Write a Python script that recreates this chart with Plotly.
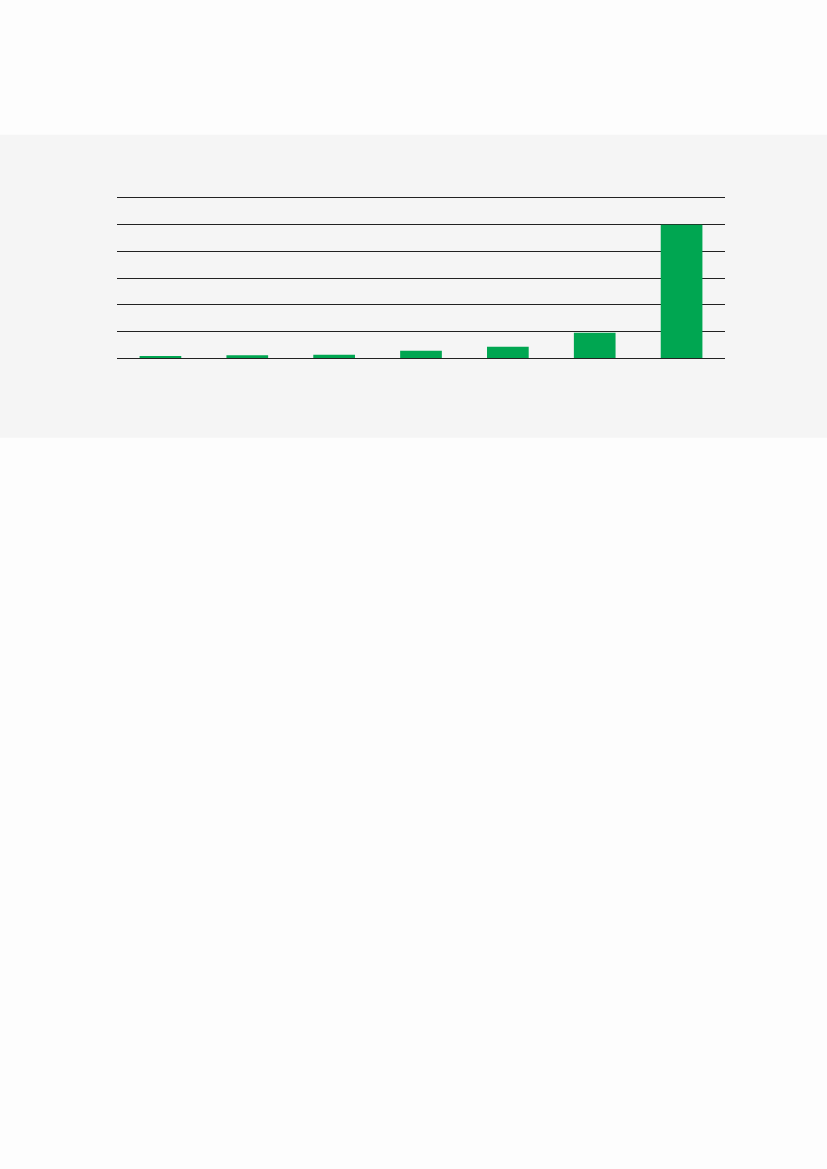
import plotly.graph_objects as go

categories = ["1", "2", "3", "4", "5", "6", "7"]
values = [0.5, 1.0, 1.25, 2.7, 4.2, 9.5, 50.0]

W, H = 827, 1169
plot_left, plot_right = 117, 725
plot_top, plot_bottom = 198.3, 358.3
band_top, band_bottom = 135, 438

pw = plot_right - plot_left
ph = plot_bottom - plot_top

fig = go.Figure(
    go.Bar(
        x=categories,
        y=values,
        marker=dict(color="#00A651", line=dict(width=0)),
        hoverinfo="skip",
    )
)

fig.add_shape(
    type="rect",
    xref="paper", yref="paper",
    x0=(0 - plot_left) / pw, x1=(W - plot_left) / pw,
    y0=(plot_bottom - band_bottom) / ph, y1=(plot_bottom - band_top) / ph,
    fillcolor="#F5F5F5", line=dict(width=0), layer="below",
)

fig.update_layout(
    width=W, height=H,
    margin=dict(l=plot_left, r=W - plot_right, t=plot_top, b=H - plot_bottom, pad=0),
    paper_bgcolor="#FDFDFD",
    plot_bgcolor="rgba(0,0,0,0)",
    bargap=0.52,
    showlegend=False,
    xaxis=dict(showticklabels=False, showgrid=False, zeroline=False,
               showline=True, mirror=True, linecolor="#222222", linewidth=1, ticks=""),
    yaxis=dict(
        range=[0, 60], dtick=10, tick0=0,
        showticklabels=False, ticks="",
        showgrid=True, gridcolor="#222222", gridwidth=1,
        zeroline=True, zerolinecolor="#222222", zerolinewidth=1,
        showline=False, layer="below traces",
    ),
)

fig.write_html(
    "out.html",
    config={"displayModeBar": False},
    post_script="document.body.style.margin='0';document.body.style.overflow='hidden';",
)
